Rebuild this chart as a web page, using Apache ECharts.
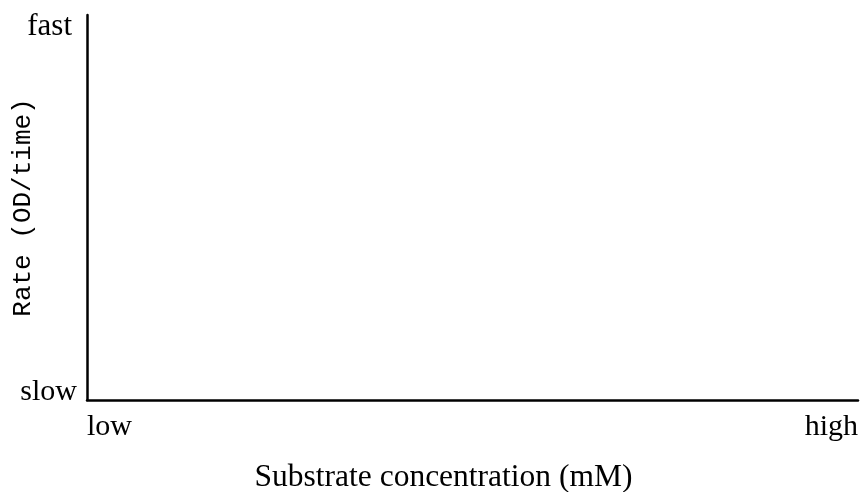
<!DOCTYPE html>
<html>
<head>
<meta charset="utf-8">
<script src="https://cdn.jsdelivr.net/npm/echarts@6/dist/echarts.min.js"></script>
<style>html,body{margin:0;padding:0;background:#fff}#c{width:864px;height:492px}</style>
</head>
<body>
<div id="c"></div>
<script>
const xTickLabels = ['low', 'high'];
const xTickValues = [0, 100];
const yTickLabels = ['slow', 'fast'];
const yTickValues = [2, 97];
const seriesValues = [];
const xName = 'Substrate concentration (mM)';
const yName = 'Rate (OD/time)';

const chart = echarts.init(document.getElementById('c'));
const serif = 'Liberation Serif';
chart.setOption({
  backgroundColor: '#fff',
  animation: false,
  grid: { left: 87, right: 6, top: 15, bottom: 92, containLabel: false, outerBoundsMode: 'none' },
  xAxis: {
    type: 'value', min: 0, max: 100,
    name: xName, nameLocation: 'middle', nameGap: 62, nameMoveOverlap: false,
    nameTextStyle: { fontFamily: serif, fontSize: 31.5, color: '#000', padding: [0, 58, 0, 0] },
    axisLine: { show: true, lineStyle: { color: '#000', width: 2.5 } },
    axisTick: { show: false },
    splitLine: { show: false },
    axisLabel: {
      customValues: xTickValues,
      formatter: v => xTickLabels[xTickValues.indexOf(v)] ?? '',
      alignMinLabel: 'left', alignMaxLabel: 'right',
      fontFamily: serif, fontSize: 30, color: '#000', margin: 12
    }
  },
  yAxis: {
    type: 'value', min: 0, max: 100,
    name: yName, nameLocation: 'middle', nameGap: 51, nameMoveOverlap: false,
    nameTextStyle: { fontFamily: 'Liberation Mono', fontSize: 26, color: '#000' },
    axisLine: { show: true, lineStyle: { color: '#000', width: 2.5 } },
    axisTick: { show: false },
    splitLine: { show: false },
    axisLabel: {
      customValues: yTickValues,
      formatter: v => {
        const t = yTickLabels[yTickValues.indexOf(v)] ?? '';
        return v === yTickValues[1] ? '{f|' + t + '}' : t;
      },
      rich: { f: { fontFamily: serif, fontSize: 31, color: '#000', padding: [0, 5, 0, 0] } },
      fontFamily: serif, fontSize: 30, color: '#000', margin: 10
    }
  },
  series: [{ type: 'line', data: seriesValues, symbol: 'none' }]
});
</script>
</body>
</html>
